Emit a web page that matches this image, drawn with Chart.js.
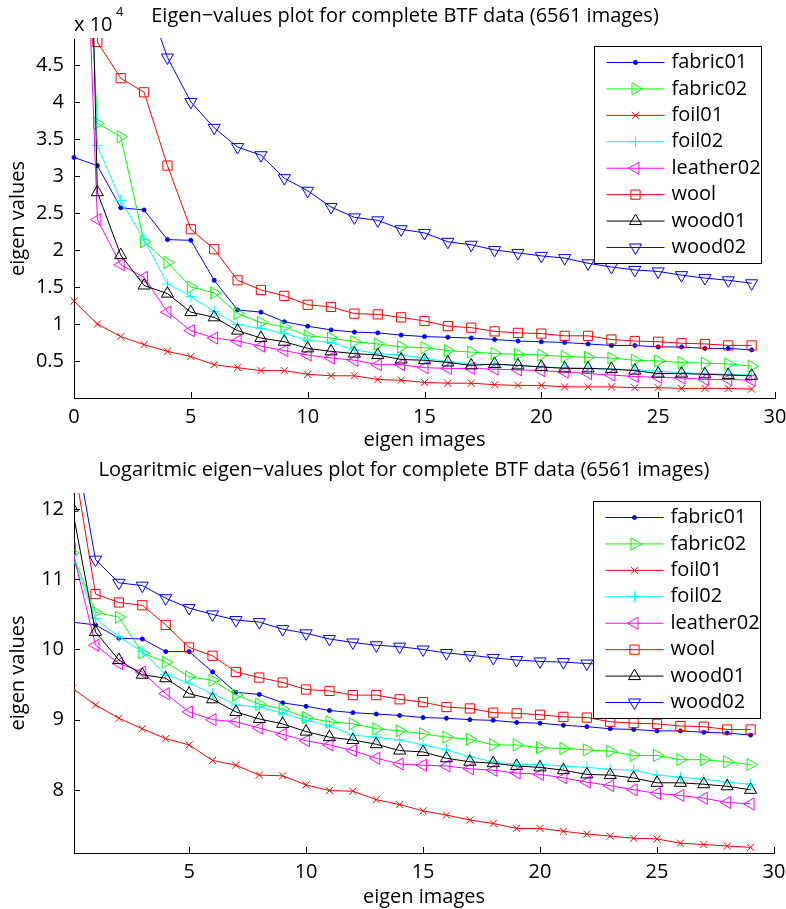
<!DOCTYPE html>
<html lang="en">
<head>
<meta charset="UTF-8">
<title>Eigen-values plot for complete BTF data</title>
<script src="https://cdn.jsdelivr.net/npm/chart.js"></script>
<style>
    body { margin: 0; background: #fff; }
    #wrap { position: relative; width: 786px; height: 909px; }
    .panel { position: absolute; left: 0; width: 786px; }
    #topPanel { top: 0; height: 455px; }
    #bottomPanel { top: 455px; height: 454px; }
</style>
</head>
<body>
<div id="wrap">
    <div class="panel" id="topPanel"><canvas id="eigChart"></canvas></div>
    <div class="panel" id="bottomPanel"><canvas id="logChart"></canvas></div>
</div>
<script>
// eigen image index (x axis)
const eigenImages = [0,1,2,3,4,5,6,7,8,9,10,11,12,13,14,15,16,17,18,19,20,21,22,23,24,25,26,27,28,29];

const seriesNames = ["fabric01", "fabric02", "foil01", "foil02", "leather02", "wool", "wood01", "wood02"];

// eigen values, in units of 10^4 (top plot)
const fabric01Eig  = [3.25, 3.14, 2.57, 2.54, 2.14, 2.13, 1.59, 1.19, 1.16, 1.03, 0.97, 0.92, 0.89, 0.88, 0.85, 0.83, 0.82, 0.81, 0.79, 0.77, 0.76, 0.75, 0.73, 0.71, 0.71, 0.69, 0.69, 0.67, 0.67, 0.65];
const fabric02Eig  = [10, 3.71, 3.53, 2.11, 1.83, 1.50, 1.42, 1.14, 1.02, 0.96, 0.84, 0.81, 0.76, 0.73, 0.69, 0.68, 0.64, 0.62, 0.60, 0.59, 0.58, 0.56, 0.55, 0.54, 0.51, 0.50, 0.48, 0.47, 0.46, 0.43];
const foil01Eig    = [1.31, 1.00, 0.83, 0.72, 0.63, 0.56, 0.45, 0.41, 0.37, 0.37, 0.32, 0.30, 0.30, 0.25, 0.24, 0.21, 0.20, 0.20, 0.18, 0.17, 0.17, 0.15, 0.15, 0.15, 0.14, 0.14, 0.13, 0.13, 0.13, 0.12];
const foil02Eig    = [12, 3.41, 2.67, 2.14, 1.54, 1.37, 1.17, 0.99, 0.94, 0.87, 0.78, 0.75, 0.65, 0.60, 0.58, 0.54, 0.49, 0.46, 0.45, 0.44, 0.42, 0.41, 0.40, 0.39, 0.38, 0.36, 0.34, 0.33, 0.32, 0.31];
const leather02Eig = [11, 2.41, 1.80, 1.63, 1.16, 0.91, 0.81, 0.77, 0.70, 0.64, 0.58, 0.54, 0.51, 0.45, 0.45, 0.41, 0.40, 0.40, 0.39, 0.38, 0.37, 0.35, 0.33, 0.31, 0.29, 0.28, 0.27, 0.25, 0.25, 0.24];
const woolEig      = [37, 4.81, 4.32, 4.13, 3.14, 2.28, 2.01, 1.59, 1.46, 1.38, 1.26, 1.23, 1.14, 1.13, 1.09, 1.04, 0.97, 0.95, 0.90, 0.88, 0.87, 0.84, 0.84, 0.79, 0.77, 0.76, 0.74, 0.73, 0.71, 0.71];
const wood01Eig    = [16.5, 2.78, 1.93, 1.52, 1.41, 1.16, 1.09, 0.91, 0.81, 0.76, 0.67, 0.63, 0.60, 0.58, 0.52, 0.51, 0.48, 0.44, 0.46, 0.44, 0.42, 0.40, 0.40, 0.39, 0.37, 0.33, 0.33, 0.32, 0.31, 0.30];
const wood02Eig    = [52, 7.9, 5.65, 5.5, 4.60, 4.00, 3.65, 3.39, 3.28, 2.97, 2.80, 2.58, 2.44, 2.40, 2.28, 2.23, 2.11, 2.07, 2.00, 1.96, 1.92, 1.89, 1.82, 1.77, 1.73, 1.71, 1.66, 1.62, 1.59, 1.55];

// logarithmic eigen values (bottom plot)
const fabric01Log  = [10.39, 10.35, 10.16, 10.15, 9.97, 9.97, 9.68, 9.39, 9.36, 9.24, 9.19, 9.13, 9.10, 9.08, 9.06, 9.03, 9.02, 9.00, 8.99, 8.96, 8.95, 8.92, 8.90, 8.87, 8.86, 8.84, 8.84, 8.82, 8.81, 8.78];
const fabric02Log  = [11.38, 10.53, 10.46, 9.95, 9.82, 9.61, 9.56, 9.35, 9.22, 9.15, 9.03, 8.97, 8.94, 8.87, 8.84, 8.80, 8.75, 8.72, 8.64, 8.64, 8.60, 8.59, 8.57, 8.55, 8.49, 8.49, 8.43, 8.43, 8.40, 8.36];
const foil01Log    = [9.45, 9.21, 9.02, 8.87, 8.73, 8.64, 8.42, 8.35, 8.21, 8.20, 8.07, 7.99, 7.98, 7.86, 7.79, 7.70, 7.64, 7.57, 7.52, 7.45, 7.45, 7.41, 7.37, 7.34, 7.31, 7.30, 7.24, 7.22, 7.20, 7.18];
const foil02Log    = [11.33, 10.44, 10.18, 9.97, 9.64, 9.52, 9.37, 9.21, 9.18, 9.09, 8.99, 8.91, 8.78, 8.75, 8.71, 8.64, 8.57, 8.47, 8.40, 8.36, 8.36, 8.34, 8.32, 8.29, 8.28, 8.21, 8.18, 8.15, 8.11, 8.08];
const leather02Log = [11.43, 10.06, 9.80, 9.68, 9.37, 9.11, 9.00, 8.97, 8.88, 8.79, 8.70, 8.64, 8.56, 8.45, 8.37, 8.35, 8.34, 8.30, 8.28, 8.24, 8.22, 8.17, 8.11, 8.06, 8.00, 7.95, 7.92, 7.88, 7.82, 7.80];
const woolLog      = [12.82, 10.79, 10.67, 10.63, 10.35, 10.03, 9.91, 9.68, 9.60, 9.53, 9.43, 9.41, 9.35, 9.35, 9.29, 9.25, 9.18, 9.16, 9.10, 9.09, 9.07, 9.04, 9.03, 8.97, 8.95, 8.94, 8.91, 8.90, 8.86, 8.86];
const wood01Log    = [12.02, 10.25, 9.85, 9.64, 9.59, 9.37, 9.29, 9.11, 9.01, 8.94, 8.83, 8.75, 8.71, 8.65, 8.56, 8.54, 8.45, 8.40, 8.38, 8.34, 8.32, 8.28, 8.22, 8.21, 8.17, 8.10, 8.10, 8.08, 8.05, 8.00];
const wood02Log    = [13.16, 11.28, 10.95, 10.91, 10.73, 10.59, 10.50, 10.42, 10.39, 10.29, 10.23, 10.15, 10.10, 10.06, 10.04, 10.00, 9.95, 9.92, 9.88, 9.85, 9.83, 9.82, 9.80, 9.78, 9.76, 9.75, 9.72, 9.69, 9.67, 9.65];

// tick labels
const eigXTicks = [0, 5, 10, 15, 20, 25, 30];
const eigYTicks = [0.5, 1, 1.5, 2, 2.5, 3, 3.5, 4, 4.5];
const logXTicks = [5, 10, 15, 20, 25, 30];
const logYTicks = [8, 9, 10, 11, 12];

// matlab style line specs
const lineStyles = [
    { color: "#0000ff", pointStyle: "circle",   radius: 2,   rotation: 0,   fill: true  },
    { color: "#00ff00", pointStyle: "triangle", radius: 7,   rotation: 90,  fill: false },
    { color: "#ff0000", pointStyle: "crossRot", radius: 5,   rotation: 0,   fill: false },
    { color: "#00ffff", pointStyle: "cross",    radius: 5.5, rotation: 0,   fill: false },
    { color: "#ff00ff", pointStyle: "triangle", radius: 7,   rotation: -90, fill: false },
    { color: "#ff0000", pointStyle: "rect",     radius: 6.5, rotation: 0,   fill: false },
    { color: "#000000", pointStyle: "triangle", radius: 7,   rotation: 0,   fill: false },
    { color: "#0000ff", pointStyle: "triangle", radius: 7,   rotation: 180, fill: false }
];

const FONT = "'Open Sans', sans-serif";
const FONT_SIZE = 20;
Chart.defaults.font.family = FONT;
Chart.defaults.font.size = FONT_SIZE;
Chart.defaults.color = "#000";

function makeDatasets(seriesValues, clip) {
    return seriesValues.map((values, i) => {
        const s = lineStyles[i];
        return {
            label: seriesNames[i],
            data: eigenImages.map((x, k) => ({ x: x, y: values[k] })),
            borderColor: s.color,
            borderWidth: 1,
            pointStyle: s.pointStyle,
            pointRadius: s.radius,
            pointRotation: s.rotation,
            pointBorderColor: s.color,
            pointBorderWidth: 1,
            pointBackgroundColor: s.fill ? s.color : "rgba(0,0,0,0)",
            tension: 0,
            clip: clip,
            order: seriesValues.length - i
        };
    });
}

// inward ticks, titles and the boxed legend
const matlabFrame = {
    id: "matlabFrame",
    afterDraw(chart, args, opts) {
        const { ctx, chartArea: a, scales: { x, y } } = chart;
        ctx.save();
        ctx.strokeStyle = "#000";
        ctx.lineWidth = 1;
        ctx.beginPath();
        x.ticks.forEach(t => {
            const px = Math.round(x.getPixelForValue(t.value)) + 0.5;
            ctx.moveTo(px, a.bottom);
            ctx.lineTo(px, a.bottom - 6);
        });
        y.ticks.forEach(t => {
            const py = Math.round(y.getPixelForValue(t.value)) + 0.5;
            ctx.moveTo(a.left, py);
            ctx.lineTo(a.left + 6, py);
        });
        ctx.stroke();

        ctx.fillStyle = "#000";
        ctx.textBaseline = "middle";
        ctx.textAlign = "center";
        ctx.font = FONT_SIZE + "px " + FONT;
        ctx.fillText(opts.title, opts.titleX, opts.titleY);

        if (opts.exponent) {
            ctx.textAlign = "left";
            ctx.fillText("x 10", a.left, a.top - 14);
            ctx.font = "13px " + FONT;
            ctx.fillText(opts.exponent, a.left + 42, a.top - 27);
        }

        // legend
        const boxW = 167, boxH = 217;
        const bx = Math.round(a.right - 14 - boxW) + 0.5;
        const by = Math.round(a.top + opts.legendTop) + 0.5;
        ctx.fillStyle = "#fff";
        ctx.fillRect(bx, by, boxW, boxH);
        ctx.strokeStyle = "#000";
        ctx.strokeRect(bx, by, boxW, boxH);
        ctx.font = FONT_SIZE + "px " + FONT;
        ctx.textAlign = "left";
        chart.data.datasets.forEach((ds, k) => {
            const ry = by + 16 + k * 26.43;
            ctx.strokeStyle = ds.borderColor;
            ctx.lineWidth = 1;
            ctx.beginPath();
            ctx.moveTo(bx + 12, ry);
            ctx.lineTo(bx + 70, ry);
            ctx.stroke();
            ctx.fillStyle = ds.pointBackgroundColor;
            Chart.helpers.drawPoint(ctx, {
                pointStyle: ds.pointStyle,
                radius: ds.pointRadius,
                rotation: ds.pointRotation,
                borderWidth: 1
            }, bx + 41, ry);
            ctx.fillStyle = "#000";
            ctx.fillText(ds.label, bx + 77, ry);
        });
        ctx.restore();
    }
};

function makeChart(canvasId, datasets, cfg) {
    return new Chart(document.getElementById(canvasId), {
        type: "line",
        data: { datasets: datasets },
        plugins: [matlabFrame],
        options: {
            responsive: true,
            maintainAspectRatio: false,
            animation: false,
            events: [],
            layout: { padding: { top: cfg.top, right: cfg.right, left: 0, bottom: 0 } },
            plugins: {
                legend: { display: false },
                tooltip: { enabled: false },
                matlabFrame: cfg.frame
            },
            scales: {
                x: {
                    type: "linear",
                    min: cfg.xMin,
                    max: 30,
                    afterBuildTicks: s => { s.ticks = cfg.xTicks.map(v => ({ value: v })); },
                    afterFit: s => { s.height = cfg.xHeight; s.paddingLeft = 0; s.paddingRight = 0; },
                    grid: { display: true, drawOnChartArea: false, drawTicks: false },
                    border: { display: true, color: "#000", width: 1 },
                    ticks: { padding: 7, maxRotation: 0, autoSkip: false, callback: v => String(v) },
                    title: { display: true, text: "eigen images", padding: { top: 0, bottom: cfg.xTitlePad } }
                },
                y: {
                    type: "linear",
                    min: cfg.yMin,
                    max: cfg.yMax,
                    afterBuildTicks: s => { s.ticks = cfg.yTicks.map(v => ({ value: v })); },
                    afterFit: s => { s.width = 74; s.paddingTop = 0; s.paddingBottom = 0; },
                    grid: { display: true, drawOnChartArea: false, drawTicks: false },
                    border: { display: true, color: "#000", width: 1 },
                    ticks: { padding: 10, autoSkip: false, callback: v => String(v) },
                    title: { display: true, text: "eigen values", padding: { top: 6, bottom: 0 } }
                }
            }
        }
    });
}

makeChart("eigChart",
    makeDatasets([fabric01Eig, fabric02Eig, foil01Eig, foil02Eig, leather02Eig, woolEig, wood01Eig, wood02Eig],
        { left: 8, top: 1, right: 8, bottom: 8 }),
    {
        top: 39, right: 11, xHeight: 57, xTitlePad: 3,
        xMin: 0, yMin: 0, yMax: 4.85, xTicks: eigXTicks, yTicks: eigYTicks,
        frame: {
            title: "Eigen\u2212values plot for complete BTF data (6561 images)",
            titleX: 405, titleY: 16, exponent: "4", legendTop: 7
        }
    });

makeChart("logChart",
    makeDatasets([fabric01Log, fabric02Log, foil01Log, foil02Log, leather02Log, woolLog, wood01Log, wood02Log],
        { left: 0, top: 0, right: 8, bottom: 8 }),
    {
        top: 38, right: 12, xHeight: 56, xTitlePad: 0,
        xMin: 0.08, yMin: 7.1, yMax: 12.23, xTicks: logXTicks, yTicks: logYTicks,
        frame: {
            title: "Logaritmic eigen\u2212values plot for complete BTF data (6561 images)",
            titleX: 404, titleY: 15, exponent: null, legendTop: 8
        }
    });
</script>
</body>
</html>
